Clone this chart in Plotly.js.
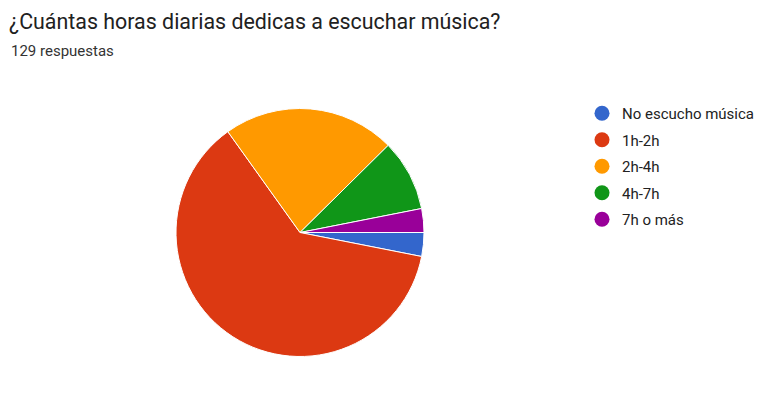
<!DOCTYPE html>
<html>
<head>
<meta charset="utf-8">
<script src="https://cdn.plot.ly/plotly-3.0.1.min.js"></script>
<style>html,body{margin:0;padding:0;background:#fff;}#chart{width:761px;height:403px;}</style>
</head>
<body>
<div id="chart"></div>
<script>
const categories = ["No escucho música", "1h-2h", "2h-4h", "4h-7h", "7h o más"];
const counts = [4, 80, 29, 12, 4];
const colors = ["#3366cc", "#dc3912", "#ff9900", "#109618", "#990099"];
const titleText = "¿Cuántas horas diarias dedicas a escuchar música?";
const subtitleText = "129 respuestas";

const pie = {
  type: "pie",
  labels: categories,
  values: counts,
  sort: false,
  direction: "clockwise",
  rotation: 90,
  marker: {colors: colors, line: {color: "#ffffff", width: 1}},
  textinfo: "none",
  hoverinfo: "label+value+percent",
  showlegend: false,
  domain: {x: [176 / 761, 424 / 761], y: [46.5 / 403, 294.5 / 403]}
};

const legendProxies = categories.map((c, i) => ({
  type: "scatter",
  mode: "markers",
  x: [null],
  y: [null],
  name: c,
  legendgroup: "g" + i,
  marker: {symbol: "circle", size: 15, color: colors[i]},
  showlegend: true,
  hoverinfo: "skip"
}));

const layout = {
  width: 761,
  height: 403,
  margin: {l: 0, r: 0, t: 0, b: 0},
  paper_bgcolor: "#ffffff",
  plot_bgcolor: "#ffffff",
  font: {family: "Roboto, Arial, sans-serif", color: "#444444"},
  title: {
    text: titleText,
    x: 9 / 761, xanchor: "left", xref: "paper",
    y: 1 - 22 / 403, yanchor: "middle", yref: "paper",
    font: {size: 21.4, color: "#212121", family: "Roboto, Arial, sans-serif"}
  },
  annotations: [{
    text: subtitleText, xref: "paper", yref: "paper",
    x: 9 / 761, y: 1 - 51 / 403, xanchor: "left", yanchor: "middle",
    showarrow: false, font: {size: 15, color: "#333333"}
  }],
  xaxis: {visible: false, domain: [0.9, 1]},
  yaxis: {visible: false, domain: [0.9, 1]},
  showlegend: true,
  legend: {
    x: 582 / 761, xanchor: "left",
    y: 1 - 97 / 403, yanchor: "top",
    font: {size: 15, color: "#222222"},
    traceorder: "grouped",
    tracegroupgap: 4,
    itemwidth: 30,
    bgcolor: "rgba(0,0,0,0)"
  }
};

Plotly.newPlot("chart", [pie].concat(legendProxies), layout, {displayModeBar: false, staticPlot: true});
</script>
</body>
</html>
